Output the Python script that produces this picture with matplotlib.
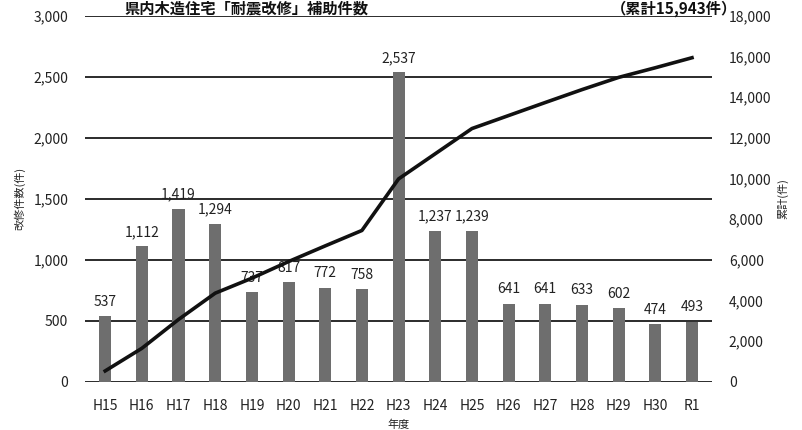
import numpy as np
import matplotlib.pyplot as plt
from matplotlib.ticker import FuncFormatter

plt.rcParams['font.family'] = ['Noto Sans CJK JP', 'DejaVu Sans']

# 年度ごとの耐震改修補助件数
years = ['H15', 'H16', 'H17', 'H18', 'H19', 'H20', 'H21', 'H22', 'H23',
         'H24', 'H25', 'H26', 'H27', 'H28', 'H29', 'H30', 'R1']
counts = [537, 1112, 1419, 1294, 737, 817, 772, 758, 2537,
          1237, 1239, 641, 641, 633, 602, 474, 493]

cumulative = np.cumsum(counts)

fig = plt.figure(figsize=(8.02, 4.30), dpi=100)
ax = fig.add_axes([0.106, 0.112, 0.782, 0.851])
ax2 = ax.twinx()

x = np.arange(len(years))
bar_col = '#6e6e6e'
ax.bar(x, counts, width=0.33, color=bar_col, zorder=3)
for xi, v in zip(x, counts):
    ax.text(xi, v + 60, f'{v:,}', ha='center', va='bottom', fontsize=10,
            color='#222222', zorder=5)

ax2.plot(x, cumulative, color='#111111', lw=2.6, zorder=4)

ax.set_ylim(0, 3000)
ax.set_yticks(np.arange(0, 3001, 500))
ax2.set_ylim(0, 18000)
ax2.set_yticks(np.arange(0, 18001, 2000))
ax.set_xlim(-0.55, len(years) - 0.45)

fmt = FuncFormatter(lambda v, p: f'{int(v):,}')
ax.yaxis.set_major_formatter(fmt)
ax2.yaxis.set_major_formatter(fmt)

ax.grid(axis='y', color='#1a1a1a', lw=1.3, zorder=1)
ax.set_axisbelow(True)
for a in (ax, ax2):
    for s in a.spines.values():
        s.set_visible(False)
    a.tick_params(length=0, labelsize=10, colors='#222222')
ax.tick_params(axis='y', pad=12)
ax2.tick_params(axis='y', pad=12)
ax.set_xticks(x)
ax.set_xticklabels(years)
ax.tick_params(axis='x', pad=12)

ax.set_ylabel('改修件数(件)', fontsize=8, color='#222222', labelpad=6)
ax2.set_ylabel('累計(件)', fontsize=8, color='#222222', labelpad=4)
ax.set_xlabel('年度', fontsize=8, color='#222222', labelpad=5)

# 見出し
fig.text(0.155, 0.999, '県内木造住宅「耐震改修」補助件数', fontsize=11,
         fontweight='bold', ha='left', va='top', color='#111111')
fig.text(0.762, 0.999, '（累計15,943件）', fontsize=11,
         fontweight='bold', ha='left', va='top', color='#111111')

fig.savefig('out.png', dpi=100)
